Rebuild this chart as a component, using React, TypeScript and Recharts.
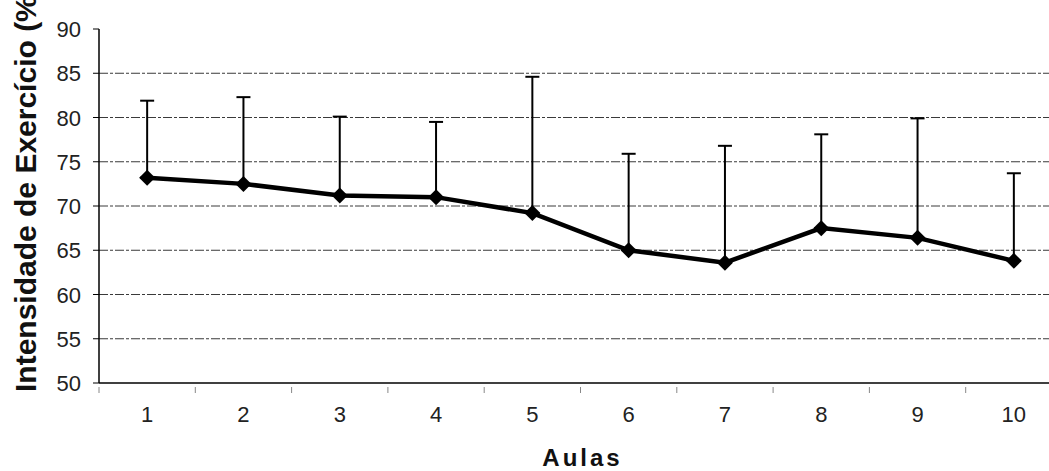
import { LineChart, Line, XAxis, YAxis, ErrorBar, ReferenceLine } from 'recharts'

const aulas = [1, 2, 3, 4, 5, 6, 7, 8, 9, 10]
const intensidade = [73.2, 72.5, 71.2, 71.0, 69.2, 65.0, 63.6, 67.5, 66.4, 63.8]
const limiteSuperior = [81.9, 82.3, 80.1, 79.5, 84.6, 75.9, 76.8, 78.1, 79.9, 73.7]
const yTicks = [50, 55, 60, 65, 70, 75, 80, 85, 90]
const gridValues = [55, 60, 65, 70, 75, 80, 85]

// ticks nas aulas (rótulos) e nas divisões entre aulas (marcas)
const xTicks = [...aulas, ...aulas.map(a => a - 0.5)].sort((a, b) => a - b)

const data = aulas.map((aula, i) => ({
  aula,
  media: intensidade[i],
  erro: [0, +(limiteSuperior[i] - intensidade[i]).toFixed(2)]
}))

const FONT = '"Liberation Sans", Arial, sans-serif'

const XTick = ({ x, y, payload }: any) => {
  const v = payload.value
  if (Number.isInteger(v)) {
    return (
      <text x={x} y={y + 33} textAnchor="middle" fontFamily={FONT} fontSize={22} fill="#222">
        {v}
      </text>
    )
  }
  return <line x1={x} x2={x} y1={y - 2} y2={y + 4} stroke="#888" strokeWidth={1} />
}

const YTick = ({ x, y, payload }: any) => (
  <text x={x - 10} y={y + 8} textAnchor="end" fontFamily={FONT} fontSize={22} fill="#222">
    {payload.value}
  </text>
)

const Diamond = ({ cx, cy }: any) => {
  if (cx == null || cy == null) return null
  const r = 8
  return (
    <polygon
      points={`${cx},${cy - r} ${cx + r},${cy} ${cx},${cy + r} ${cx - r},${cy}`}
      fill="#000"
    />
  )
}

const YTitle = (props: any) => {
  const vb = props.viewBox || { x: 0, y: 29, width: 99, height: 354 }
  const x = vb.x + 36
  const y = vb.y + vb.height + 9
  return (
    <text
      x={x}
      y={y}
      transform={`rotate(-90, ${x}, ${y})`}
      textAnchor="start"
      fontFamily={FONT}
      fontWeight="bold"
      fontSize={30}
      fill="#111"
    >
      Intensidade de Exercício (%)
    </text>
  )
}

const XTitle = (props: any) => {
  const vb = props.viewBox || { x: 99, y: 383, width: 963, height: 88 }
  return (
    <text
      x={vb.x + vb.width / 2 + 2}
      y={vb.y + 83}
      textAnchor="middle"
      fontFamily={FONT}
      fontWeight="bold"
      fontSize={24}
      letterSpacing={3}
      fill="#111"
    >
      Aulas
    </text>
  )
}

export default function App() {
  return (
    <div
      style={{
        position: 'absolute',
        left: 0,
        top: 0,
        width: 1049,
        height: 471,
        overflow: 'hidden',
        background: '#fff'
      }}
    >
      <LineChart width={1062} height={471} data={data} margin={{ top: 29, right: 0, bottom: 0, left: 0 }}>
        {gridValues.map(v => (
          <ReferenceLine key={v} y={v} stroke="#3a3a3a" strokeWidth={1} strokeDasharray="9 2 3 2" />
        ))}

        <XAxis
          type="number"
          dataKey="aula"
          domain={[0.5, 10.5]}
          ticks={xTicks}
          interval={0}
          height={88}
          tickLine={false}
          tickSize={6}
          tickMargin={0}
          axisLine={{ stroke: '#000', strokeWidth: 1.5 }}
          tick={<XTick />}
          label={XTitle}
        />

        <YAxis
          domain={[50, 90]}
          ticks={yTicks}
          interval={0}
          width={99}
          tickSize={6}
          tickLine={{ stroke: '#000', strokeWidth: 1 }}
          axisLine={{ stroke: '#000', strokeWidth: 1.5 }}
          tick={<YTick />}
          label={YTitle}
        />

        <Line
          dataKey="media"
          stroke="#000"
          strokeWidth={4.5}
          dot={<Diamond />}
          activeDot={false}
          isAnimationActive={false}
        >
          <ErrorBar dataKey="erro" direction="y" width={7} strokeWidth={2} stroke="#000" />
        </Line>
      </LineChart>
    </div>
  )
}
